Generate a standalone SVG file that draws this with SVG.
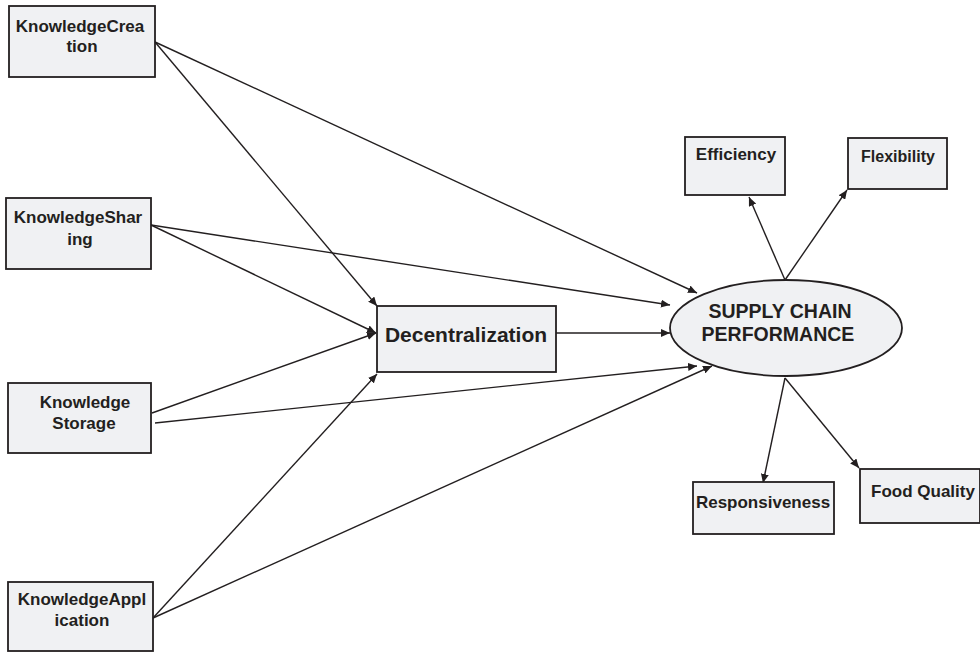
<svg xmlns="http://www.w3.org/2000/svg" width="980" height="652" viewBox="0 0 980 652">
<style>
.box{fill:#f0f1f3;stroke:#231f20;stroke-width:1.8}
.t{font-family:"Liberation Sans",Arial,sans-serif;font-weight:bold;fill:#231f20;text-anchor:middle}
.s{font-size:17px}
.c{stroke:#231f20;stroke-width:1.4;fill:none;marker-end:url(#ah)}
</style>
<defs>
<marker id="ah" markerUnits="userSpaceOnUse" markerWidth="10" markerHeight="8" refX="9" refY="4" orient="auto">
<path d="M0,0 L9,4 L0,8 z" fill="#231f20"/>
</marker>
</defs>
<rect width="980" height="652" fill="#fff"/>
<g id="connectors">
<line class="c" x1="155" y1="42" x2="697" y2="293"/>
<line class="c" x1="155" y1="42" x2="377" y2="306"/>
<line class="c" x1="151" y1="225" x2="670" y2="305"/>
<line class="c" x1="151" y1="225" x2="376" y2="333"/>
<line class="c" x1="152" y1="413" x2="376" y2="333"/>
<line class="c" x1="155" y1="423" x2="697" y2="366"/>
<line class="c" x1="153" y1="618" x2="377" y2="374"/>
<line class="c" x1="153" y1="618" x2="712" y2="366"/>
<line class="c" x1="556" y1="333" x2="670" y2="333"/>
<line class="c" x1="785" y1="280" x2="749" y2="197"/>
<line class="c" x1="785" y1="280" x2="847" y2="190"/>
<line class="c" x1="785" y1="378" x2="763" y2="483"/>
<line class="c" x1="785" y1="378" x2="859" y2="468"/>
</g>
<g id="knowledge-creation">
<rect class="box" x="9" y="6" width="146" height="71"/>
<text class="t s" x="80" y="32">KnowledgeCrea</text>
<text class="t s" x="82" y="52">tion</text>
</g>
<g id="knowledge-sharing">
<rect class="box" x="6" y="198" width="145" height="71"/>
<text class="t s" x="78" y="223">KnowledgeShar</text>
<text class="t s" x="80" y="245">ing</text>
</g>
<g id="knowledge-storage">
<rect class="box" x="8" y="383" width="143" height="70"/>
<text class="t s" x="85" y="408">Knowledge</text>
<text class="t s" x="84" y="429">Storage</text>
</g>
<g id="knowledge-application">
<rect class="box" x="8" y="582" width="145" height="69"/>
<text class="t s" x="82" y="605">KnowledgeAppl</text>
<text class="t s" x="82" y="626">ication</text>
</g>
<g id="decentralization">
<rect class="box" x="377" y="306" width="179" height="66"/>
<text class="t" x="466" y="342" font-size="21">Decentralization</text>
</g>
<g id="supply-chain-performance">
<ellipse class="box" cx="786" cy="328" rx="116" ry="48"/>
<text class="t" x="780" y="318" font-size="19.5">SUPPLY CHAIN</text>
<text class="t" x="778" y="341" font-size="19.5">PERFORMANCE</text>
</g>
<g id="efficiency">
<rect class="box" x="685" y="137" width="100" height="58"/>
<text class="t" x="736" y="160" font-size="17">Efficiency</text>
</g>
<g id="flexibility">
<rect class="box" x="848" y="138" width="99" height="51"/>
<text class="t" x="898" y="162" font-size="16">Flexibility</text>
</g>
<g id="responsiveness">
<rect class="box" x="693" y="482" width="141" height="52"/>
<text class="t" x="763" y="508" font-size="17">Responsiveness</text>
</g>
<g id="food-quality">
<rect class="box" x="860" y="469" width="120" height="54"/>
<text class="t" x="923" y="497" font-size="17">Food Quality</text>
</g>
</svg>
